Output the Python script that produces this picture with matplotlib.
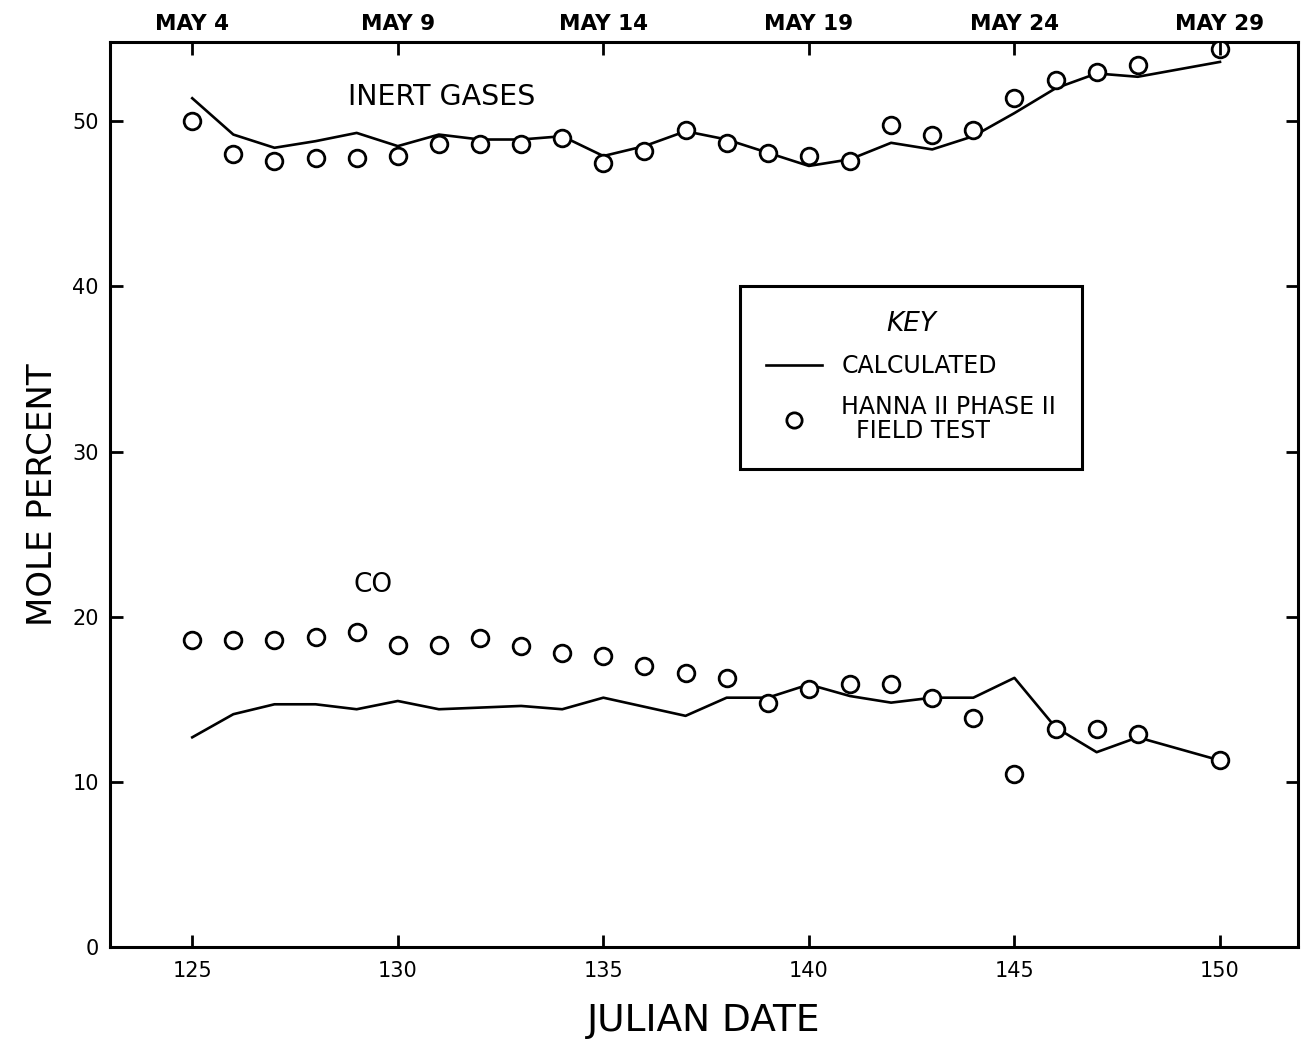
import matplotlib
matplotlib.use("Agg")
import matplotlib.pyplot as plt
from matplotlib.lines import Line2D

plt.rcParams['font.family'] = ['DejaVu Sans']

# ---- data ----
obs_days = [125, 126, 127, 128, 129, 130, 131, 132, 133, 134, 135, 136, 137,
            138, 139, 140, 141, 142, 143, 144, 145, 146, 147, 148, 150]
inert_obs = [50.0, 48.0, 47.6, 47.8, 47.8, 47.9, 48.6, 48.6, 48.6, 49.0, 47.5,
             48.2, 49.5, 48.7, 48.1, 47.9, 47.6, 49.8, 49.2, 49.5, 51.4, 52.5,
             53.0, 53.4, 54.4]
co_obs = [18.6, 18.6, 18.6, 18.8, 19.1, 18.3, 18.3, 18.7, 18.2, 17.8, 17.6,
          17.0, 16.6, 16.3, 14.8, 15.6, 15.9, 15.9, 15.1, 13.9, 10.5, 13.2,
          13.2, 12.9, 11.3]

inert_calc_days = [125, 126, 127, 128, 129, 130, 131, 132, 133, 134, 135, 136,
                   137, 138, 139, 140, 141, 142, 143, 144, 145, 146, 147, 148, 150]
inert_calc = [51.4, 49.2, 48.4, 48.8, 49.3, 48.5, 49.2, 48.9, 48.9, 49.1, 47.9,
              48.5, 49.4, 48.9, 48.1, 47.3, 47.7, 48.7, 48.3, 49.1, 50.5, 52.0,
              52.9, 52.7, 53.6]

co_calc_days = [125, 126, 127, 128, 129, 130, 131, 132, 133, 134, 135, 137,
                138, 139, 140, 141, 142, 143, 144, 145, 146, 147, 148, 150]
co_calc = [12.7, 14.1, 14.7, 14.7, 14.4, 14.9, 14.4, 14.5, 14.6, 14.4, 15.1,
           14.0, 15.1, 15.1, 15.9, 15.2, 14.8, 15.1, 15.1, 16.3, 13.3, 11.8,
           12.7, 11.3]

bottom_ticks = [125, 130, 135, 140, 145, 150]
top_labels = ['MAY 4', 'MAY 9', 'MAY 14', 'MAY 19', 'MAY 24', 'MAY 29']
y_ticks = [0, 10, 20, 30, 40, 50]

# ---- figure ----
fig = plt.figure(figsize=(13.02, 10.39), dpi=100)
ax = fig.add_axes([0.0845, 0.0885, 0.9125, 0.871])

lw = 1.9
ax.plot(inert_calc_days, inert_calc, color='black', lw=lw, zorder=2)
ax.plot(co_calc_days, co_calc, color='black', lw=lw, zorder=2)
mk = dict(ls='none', marker='o', ms=12, mfc='white', mec='black', mew=2.0, zorder=3)
ax.plot(obs_days, inert_obs, **mk)
ax.plot(obs_days, co_obs, **mk)

ax.set_xlim(123, 151.9)
ax.set_ylim(0, 54.8)
ax.set_xticks(bottom_ticks)
ax.set_xticklabels([str(t) for t in bottom_ticks], fontsize=15)
ax.set_yticks(y_ticks)
ax.set_yticklabels([str(t) for t in y_ticks], fontsize=15)
ax.tick_params(direction='in', length=9, width=2, right=True, pad=8)
ax.tick_params(axis='x', pad=10)

for s in ax.spines.values():
    s.set_linewidth(2.2)

ax_top = ax.twiny()
ax_top.set_xlim(ax.get_xlim())
ax_top.set_xticks(bottom_ticks)
ax_top.set_xticklabels(top_labels, fontsize=15.5, fontweight='bold')
ax_top.tick_params(direction='in', length=9, width=2, pad=6)

ax.set_xlabel('JULIAN DATE', fontsize=27, labelpad=16)
ax.set_ylabel('MOLE PERCENT', fontsize=24.5, labelpad=10)

ax.text(128.8, 51.45, 'INERT GASES', fontsize=20.5, ha='left', va='center')
ax.text(129.4, 21.9, 'CO', fontsize=19, ha='center', va='center')

handles = [Line2D([], [], color='black', lw=lw),
           Line2D([], [], ls='none', marker='o', ms=11, mfc='white',
                  mec='black', mew=2.0)]
labels = ['CALCULATED', 'HANNA II PHASE II\n  FIELD TEST']
leg = ax.legend(handles, labels, title='KEY', loc='upper left',
                bbox_to_anchor=(0.530, 0.731), fontsize=17,
                title_fontproperties={'size': 19, 'style': 'italic'},
                frameon=True, fancybox=False, edgecolor='black', framealpha=1,
                handlelength=2.4, handletextpad=0.8, borderpad=1.1,
                labelspacing=0.7, borderaxespad=0.0)
leg.get_frame().set_linewidth(2.2)
for t in leg.get_texts():
    t.set_linespacing(1.0)

fig.savefig('out.png', dpi=100)
